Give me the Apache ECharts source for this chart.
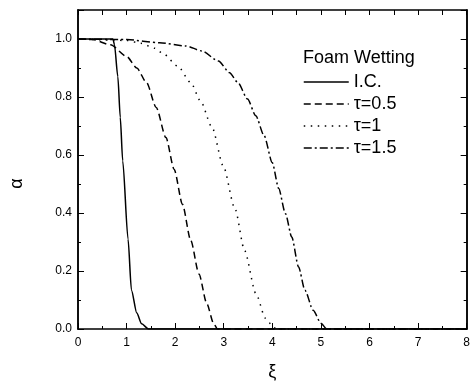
<!DOCTYPE html>
<html>
<head>
<meta charset="utf-8">
<script src="https://cdn.jsdelivr.net/npm/echarts@6/dist/echarts.min.js"></script>
<style>
  html, body { margin: 0; padding: 0; background: #fff; }
  #chart { width: 473px; height: 386px; }
</style>
</head>
<body>
<div id="chart"></div>
<script>
// values
var names = ['I.C.', 'τ=0.5', 'τ=1', 'τ=1.5'];

var icX = [0, 0.72, 0.75, 0.82, 0.87, 0.92, 1.03, 1.10, 1.21, 1.31, 1.45, 8];
var icY = [1, 1, 0.98, 0.87, 0.73, 0.58, 0.31, 0.134, 0.055, 0.018, 0, 0];

var t05X = [0, 0.3, 0.67, 1.0, 1.21, 1.41, 1.61, 1.81, 1.98, 2.15, 2.32, 2.49, 2.65, 2.79, 2.87, 8];
var t05Y = [1, 0.998, 0.98, 0.94, 0.90, 0.85, 0.764, 0.66, 0.55, 0.43, 0.306, 0.19, 0.088, 0.02, 0, 0];

var t1X = [0, 1.0, 1.3, 1.58, 1.75, 2.05, 2.32, 2.52, 2.76, 2.99, 3.23, 3.43, 3.66, 3.86, 4.0, 4.08, 8];
var t1Y = [1, 0.995, 0.985, 0.968, 0.95, 0.907, 0.85, 0.787, 0.695, 0.562, 0.415, 0.27, 0.123, 0.037, 0.012, 0, 0];

var t15X = [0, 1.0, 1.68, 2.22, 2.55, 2.89, 3.12, 3.29, 3.49, 3.66, 3.83, 4.0, 4.13, 4.27, 4.40, 4.54, 4.67, 4.84, 5.0, 5.12, 8];
var t15Y = [1, 0.998, 0.987, 0.976, 0.959, 0.924, 0.884, 0.85, 0.793, 0.735, 0.667, 0.573, 0.485, 0.398, 0.317, 0.214, 0.134, 0.065, 0.02, 0, 0];

var dashes = ['solid', [7, 4], [1.5, 5.5], [8, 3, 2, 3]];

function pairs(xs, ys) {
  return xs.map(function (x, i) { return [x, ys[i]]; });
}

var font = 'Liberation Sans, Arial, sans-serif';
var black = '#000';

var chart = echarts.init(document.getElementById('chart'));

var lines = [pairs(icX, icY), pairs(t05X, t05Y), pairs(t1X, t1Y), pairs(t15X, t15Y)];
var series = lines.map(function (d, i) {
  return {
    name: names[i],
    type: 'line',
    data: d,
    symbol: 'none',
    smooth: 0.25,
    smoothMonotone: 'x',
    lineStyle: { color: black, width: 1.5, type: dashes[i] },
    itemStyle: { color: black },
    z: 3
  };
});

function yAxisPart(pos, step, len, labels) {
  return {
    type: 'value', position: pos, min: 0, max: 1.1, interval: step,
    axisLine: { show: true, lineStyle: { color: black, width: 1.5 } },
    axisTick: { show: true, inside: true, length: len, lineStyle: { color: black, width: 1 } },
    axisLabel: labels ? {
      show: true, margin: 6, color: black, fontSize: 12, fontFamily: font,
      formatter: function (v) {
        var k = Math.round(v * 10);
        return (k % 2 === 0 && k <= 10) ? (k / 10).toFixed(1) : '';
      }
    } : { show: false },
    splitLine: { show: false }
  };
}

var yLeft = yAxisPart('left', 0.1, 3, true);
yLeft.name = 'α';
yLeft.nameLocation = 'middle';
yLeft.nameGap = 52;
yLeft.nameTextStyle = { color: black, fontSize: 18, fontFamily: font, padding: [0, 28, 0, 0] };

chart.setOption({
  animation: false,
  backgroundColor: '#fff',
  title: {
    text: 'Foam Wetting', left: 298, top: 44,
    textStyle: { color: black, fontSize: 18, fontWeight: 'normal', fontFamily: font }
  },
  legend: {
    data: names, orient: 'vertical', left: 298, top: 68,
    itemWidth: 45, itemHeight: 16, itemGap: 4,
    textStyle: { color: black, fontSize: 18, fontFamily: font },
    lineStyle: { width: 1.5 },
    itemStyle: { opacity: 0 },
    selectedMode: false
  },
  grid: { left: 75, right: 1, top: 10, bottom: 57, containLabel: false },
  xAxis: [{
    type: 'value', position: 'bottom', min: 0, max: 8, interval: 1,
    axisLine: { show: true, onZero: false, lineStyle: { color: black, width: 1.5 } },
    axisTick: { show: true, inside: true, length: 6, lineStyle: { color: black, width: 1 } },
    minorTick: { show: true, splitNumber: 2, length: 3, lineStyle: { color: black, width: 1 } },
    axisLabel: { margin: 8, color: black, fontSize: 12, fontFamily: font },
    splitLine: { show: false },
    name: 'ξ', nameLocation: 'middle', nameGap: 34,
    nameTextStyle: { color: black, fontSize: 18, fontFamily: font }
  }, {
    type: 'value', position: 'top', min: 0, max: 8, interval: 0.5,
    axisLine: { show: true, onZero: false, lineStyle: { color: black, width: 1.5 } },
    axisTick: { show: true, inside: true, length: 5, lineStyle: { color: black, width: 1 } },
    axisLabel: { show: false },
    splitLine: { show: false }
  }],
  yAxis: [
    yLeft,
    yAxisPart('left', 0.2, 6, false),
    yAxisPart('right', 0.1, 3, false),
    yAxisPart('right', 0.2, 6, false)
  ],
  series: series
});
</script>
</body>
</html>
